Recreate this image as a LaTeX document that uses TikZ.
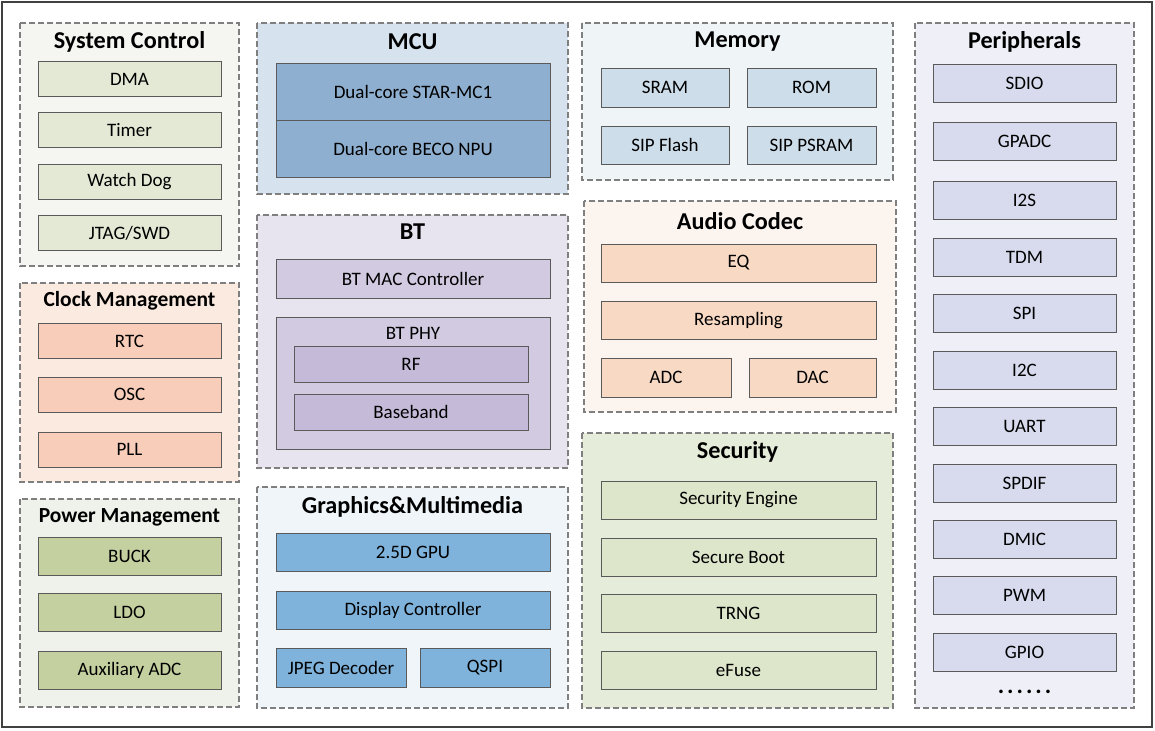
\documentclass[tikz,border=0pt]{standalone}
\usepackage{fontspec}
\setmainfont{Carlito}
\definecolor{frameline}{HTML}{404040}
\definecolor{grpline}{HTML}{7F7F7F}
\definecolor{boxline}{HTML}{5A5A5A}
\definecolor{scgrp}{HTML}{F5F6F1}
\definecolor{scbox}{HTML}{E3E9D5}
\definecolor{ckgrp}{HTML}{FBEADF}
\definecolor{ckbox}{HTML}{F8CDB9}
\definecolor{pwgrp}{HTML}{EFF2EA}
\definecolor{pwbox}{HTML}{C4D09F}
\definecolor{mcugrp}{HTML}{D6E3EE}
\definecolor{mcubox}{HTML}{8EAFCF}
\definecolor{btgrp}{HTML}{E7E4F0}
\definecolor{btbox}{HTML}{D2CAE0}
\definecolor{btin}{HTML}{C5BBD8}
\definecolor{gmgrp}{HTML}{F0F5F9}
\definecolor{gmbox}{HTML}{7FB3DB}
\definecolor{memgrp}{HTML}{EFF4F7}
\definecolor{membox}{HTML}{CEDDEA}
\definecolor{augrp}{HTML}{FCF4EF}
\definecolor{aubox}{HTML}{F8D9C4}
\definecolor{secgrp}{HTML}{E6ECDA}
\definecolor{secbox}{HTML}{DDE6CB}
\definecolor{pegrp}{HTML}{EEEFF7}
\definecolor{pebox}{HTML}{D7DBED}

\begin{document}
\begin{tikzpicture}[x=1pt,y=-1pt,grp/.style={draw=grpline,line width=1.2pt,dash pattern=on 6pt off 3pt},blk/.style={draw=boxline,line width=0.9pt,inner sep=0pt,font=\fontsize{19}{22}\selectfont},ttl/.style={font=\fontsize{24.2}{26}\selectfont\bfseries,inner sep=0pt},subttl/.style={font=\fontsize{21.5}{24}\selectfont\bfseries,inner sep=0pt}]
\useasboundingbox (0,0) rectangle (1155,730);
\draw[frameline,line width=2pt] (2,2) rectangle (1152,727);
% left column
\draw[grp,fill=scgrp] (20,23) rectangle (239,266);
\draw[grp,fill=ckgrp] (20,283) rectangle (239,482);
\draw[grp,fill=pwgrp] (20,499) rectangle (239,707);
\node[ttl] (sctitle) at (129.5,42) {System Control};
\node[blk,fill=scbox,minimum width=183,minimum height=35] (dma) at (129.5,79) {DMA};
\node[blk,fill=scbox,minimum width=183,minimum height=35] (timer) at (129.5,130) {Timer};
\node[blk,fill=scbox,minimum width=183,minimum height=35] (wdog) at (129.5,181.5) {Watch Dog};
\node[blk,fill=scbox,minimum width=183,minimum height=35] (jtag) at (129.5,233) {JTAG/SWD};
\node[subttl] (cktitle) at (129.5,301) {Clock Management};
\node[blk,fill=ckbox,minimum width=183,minimum height=35] (rtc) at (129.5,341) {RTC};
\node[blk,fill=ckbox,minimum width=183,minimum height=35] (osc) at (129.5,394.5) {OSC};
\node[blk,fill=ckbox,minimum width=183,minimum height=35] (pll) at (129.5,449.5) {PLL};
\node[subttl] (pwtitle) at (129.5,517) {Power Management};
\node[blk,fill=pwbox,minimum width=183,minimum height=38] (buck) at (129.5,556) {BUCK};
\node[blk,fill=pwbox,minimum width=183,minimum height=38] (ldo) at (129.5,612) {LDO};
\node[blk,fill=pwbox,minimum width=183,minimum height=38] (auxadc) at (129.5,670) {Auxiliary ADC};
% second column
\draw[grp,fill=mcugrp] (257,23) rectangle (568,194);
\draw[grp,fill=btgrp] (257,215) rectangle (568,468);
\draw[grp,fill=gmgrp] (257,487) rectangle (568,708);
\node[ttl] (mcutitle) at (412.5,42) {MCU};
\node[blk,fill=mcubox,minimum width=274,minimum height=57] (starmc) at (413,91.5) {Dual-core STAR-MC1};
\node[blk,fill=mcubox,minimum width=274,minimum height=57] (beco) at (413,148.5) {Dual-core BECO NPU};
\node[ttl] (bttitle) at (412.5,232) {BT};
\node[blk,fill=btbox,minimum width=274,minimum height=39] (btmac) at (413,278.5) {BT MAC Controller};
\node[blk,fill=btbox,minimum width=274,minimum height=132] (btphy) at (413,383) {};
\node[font=\fontsize{19}{22}\selectfont,inner sep=0pt] (phylabel) at (413,333) {BT PHY};
\node[blk,fill=btin,minimum width=234,minimum height=36] (rf) at (411,364) {RF};
\node[blk,fill=btin,minimum width=234,minimum height=36] (bband) at (411,412) {Baseband};
\node[ttl] (gmtitle) at (412.5,507) {Graphics\&Multimedia};
\node[blk,fill=gmbox,minimum width=274,minimum height=38] (gpu) at (413,552) {2.5D GPU};
\node[blk,fill=gmbox,minimum width=274,minimum height=38] (disp) at (413,610) {Display Controller};
\node[blk,fill=gmbox,minimum width=130,minimum height=39] (jpeg) at (341,667.5) {JPEG Decoder};
\node[blk,fill=gmbox,minimum width=130,minimum height=39] (qspi) at (485,667.5) {QSPI};
% third column
\draw[grp,fill=memgrp] (582,23) rectangle (893,180);
\draw[grp,fill=augrp] (584,201) rectangle (896,412);
\draw[grp,fill=secgrp] (582,433) rectangle (893,708);
\node[ttl] (memtitle) at (737.5,42) {Memory};
\node[blk,fill=membox,minimum width=128,minimum height=39] (sram) at (665,87.5) {SRAM};
\node[blk,fill=membox,minimum width=129,minimum height=39] (rom) at (811.5,87.5) {ROM};
\node[blk,fill=membox,minimum width=128,minimum height=38] (sipflash) at (665,145) {SIP Flash};
\node[blk,fill=membox,minimum width=129,minimum height=38] (sippsram) at (811.5,145) {SIP PSRAM};
\node[ttl] (autitle) at (740,221) {Audio Codec};
\node[blk,fill=aubox,minimum width=275,minimum height=38] (eq) at (738.5,263) {EQ};
\node[blk,fill=aubox,minimum width=275,minimum height=38] (resamp) at (738.5,320.5) {Resampling};
\node[blk,fill=aubox,minimum width=130,minimum height=39] (adc) at (666,377.5) {ADC};
\node[blk,fill=aubox,minimum width=127,minimum height=39] (dac) at (812.5,377.5) {DAC};
\node[ttl] (sectitle) at (737.5,452) {Security};
\node[blk,fill=secbox,minimum width=275,minimum height=38] (seceng) at (738.5,500) {Security Engine};
\node[blk,fill=secbox,minimum width=275,minimum height=38] (sboot) at (738.5,557) {Secure Boot};
\node[blk,fill=secbox,minimum width=275,minimum height=38] (trng) at (738.5,613) {TRNG};
\node[blk,fill=secbox,minimum width=275,minimum height=38] (efuse) at (738.5,670.5) {eFuse};
% right column
\draw[grp,fill=pegrp] (915,23) rectangle (1134,708);
\node[ttl] (petitle) at (1024.5,42) {Peripherals};
\node[blk,fill=pebox,minimum width=183,minimum height=38] (sdio) at (1024.5,83) {SDIO};
\node[blk,fill=pebox,minimum width=183,minimum height=38] (gpadc) at (1024.5,141.5) {GPADC};
\node[blk,fill=pebox,minimum width=183,minimum height=38] (itwos) at (1024.5,200.5) {I2S};
\node[blk,fill=pebox,minimum width=183,minimum height=38] (tdm) at (1024.5,257) {TDM};
\node[blk,fill=pebox,minimum width=183,minimum height=38] (spi) at (1024.5,313.5) {SPI};
\node[blk,fill=pebox,minimum width=183,minimum height=38] (itwoc) at (1024.5,370) {I2C};
\node[blk,fill=pebox,minimum width=183,minimum height=38] (uart) at (1024.5,426.5) {UART};
\node[blk,fill=pebox,minimum width=183,minimum height=38] (spdif) at (1024.5,483) {SPDIF};
\node[blk,fill=pebox,minimum width=183,minimum height=38] (dmic) at (1024.5,539.5) {DMIC};
\node[blk,fill=pebox,minimum width=183,minimum height=38] (pwm) at (1024.5,595.5) {PWM};
\node[blk,fill=pebox,minimum width=183,minimum height=38] (gpio) at (1024.5,652.5) {GPIO};
\node[font=\fontsize{24}{24}\selectfont\bfseries,inner sep=0pt,anchor=base] (more) at (1024.5,693) {.\kern3pt.\kern3pt.\kern3pt.\kern3pt.\kern3pt.};
\end{tikzpicture}
\end{document}
